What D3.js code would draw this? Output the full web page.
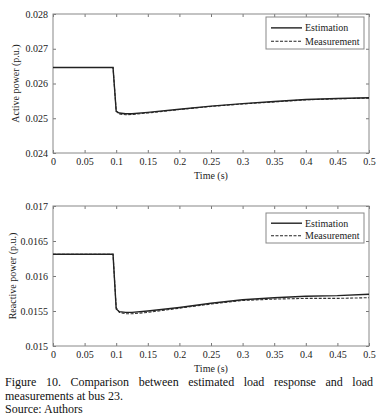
<!DOCTYPE html>
<html>
<head>
<meta charset="utf-8">
<script src="https://cdn.jsdelivr.net/npm/d3@7"></script>
<style>
  body { margin: 0; background: #fff; }
  #wrap { position: relative; width: 387px; height: 420px; }
  svg text { font-family: 'Liberation Serif', 'Times New Roman', serif; fill: #222; }
  #caption {
    position: absolute; left: 5px; top: 376px; width: 368px;
    font-family: 'Liberation Serif', 'Times New Roman', serif;
    font-size: 12px; line-height: 13.6px; color: #111; text-align: justify;
  }
</style>
</head>
<body>
<div id="wrap">
  <svg id="chart" width="387" height="420"></svg>
  <div id="caption">Figure 10. Comparison between estimated load response and load measurements at bus 23.<br>Source: Authors</div>
</div>
<script>
// time samples (s)
const time = [0, 0.095, 0.1, 0.105, 0.115, 0.125, 0.15, 0.2, 0.25, 0.3, 0.35, 0.4, 0.45, 0.5]

// active power (p.u.)
const activeEst = [0.02646, 0.02646, 0.0252, 0.02515, 0.02513, 0.02513, 0.02517, 0.02526, 0.02535, 0.02542, 0.02548, 0.02554, 0.02557, 0.02559]
const activeMeas = [0.02646, 0.02646, 0.02521, 0.02512, 0.0251, 0.02511, 0.02515, 0.02525, 0.02534, 0.02541, 0.02547, 0.02553, 0.02556, 0.02558]

// reactive power (p.u.)
const reactiveEst = [0.01631, 0.01631, 0.01553, 0.01549, 0.01548, 0.01548, 0.0155, 0.01555, 0.01561, 0.01566, 0.01569, 0.01571, 0.01572, 0.01574]
const reactiveMeas = [0.01631, 0.01631, 0.01555, 0.01548, 0.01546, 0.01546, 0.01548, 0.01554, 0.0156, 0.01565, 0.01567, 0.01568, 0.01568, 0.01569]

const xTicks = [0, 0.05, 0.1, 0.15, 0.2, 0.25, 0.3, 0.35, 0.4, 0.45, 0.5]
const activeTicks = [0.024, 0.025, 0.026, 0.027, 0.028]
const reactiveTicks = [0.015, 0.0155, 0.016, 0.0165, 0.017]
const legendLabels = ['Estimation', 'Measurement']

const svg = d3.select('#chart')
const left = 53, right = 369

const panels = [
  { top: 14, bottom: 153, domain: [0.024, 0.028], ticks: activeTicks, label: 'Active power (p.u.)', labelX: 15,
    est: activeEst, meas: activeMeas, legend: { x: 266, y: 17, w: 98, h: 32 } },
  { top: 206, bottom: 346, domain: [0.015, 0.017], ticks: reactiveTicks, label: 'Reactive power (p.u.)', labelX: 12,
    est: reactiveEst, meas: reactiveMeas, legend: { x: 266, y: 213, w: 98, h: 30 } },
]

const x = d3.scaleLinear().domain([0, 0.5]).range([left, right])

panels.forEach(p => {
  const y = d3.scaleLinear().domain(p.domain).range([p.bottom, p.top])
  const g = svg.append('g')

  const style = a => a
    .call(s => s.select('.domain').remove())
    .call(s => s.selectAll('.tick line').attr('stroke', '#777'))
    .call(s => s.selectAll('.tick text').style('font-size', '10px').attr('fill', '#222'))

  g.append('g').attr('transform', `translate(0,${p.bottom})`)
    .call(d3.axisBottom(x).tickValues(xTicks).tickSize(-3).tickPadding(5).tickFormat(d3.format('~g')))
    .call(style)
  g.append('g').attr('transform', `translate(0,${p.top})`)
    .call(d3.axisTop(x).tickValues(xTicks).tickSize(-3).tickFormat(''))
    .call(style)
  g.append('g').attr('transform', `translate(${left},0)`)
    .call(d3.axisLeft(y).tickValues(p.ticks).tickSize(-3).tickPadding(5).tickFormat(d3.format('~g')))
    .call(style)
  g.append('g').attr('transform', `translate(${right},0)`)
    .call(d3.axisRight(y).tickValues(p.ticks).tickSize(-3).tickFormat(''))
    .call(style)

  g.append('rect')
    .attr('x', left).attr('y', p.top)
    .attr('width', right - left).attr('height', p.bottom - p.top)
    .attr('fill', 'none').attr('stroke', '#888').attr('stroke-width', 1)

  const line = d3.line().x((d, i) => x(time[i])).y(d => y(d))

  g.append('path').datum(p.meas).attr('d', line)
    .attr('fill', 'none').attr('stroke', '#333').attr('stroke-width', 1.1)
    .attr('stroke-dasharray', '3,1.5')
  g.append('path').datum(p.est).attr('d', line)
    .attr('fill', 'none').attr('stroke', '#222').attr('stroke-width', 1.4)

  g.append('text')
    .attr('x', (left + right) / 2).attr('y', p.bottom + 26)
    .attr('text-anchor', 'middle').style('font-size', '10px')
    .text('Time (s)')

  g.append('text')
    .attr('transform', `translate(${p.labelX},${(p.top + p.bottom) / 2}) rotate(-90)`)
    .attr('text-anchor', 'middle').attr('dy', '0.35em').style('font-size', '10px')
    .text(p.label)

  // legend
  const L = p.legend
  const lg = g.append('g')
  lg.append('rect').attr('x', L.x).attr('y', L.y).attr('width', L.w).attr('height', L.h)
    .attr('fill', '#fff').attr('stroke', '#888').attr('stroke-width', 1)
  legendLabels.forEach((lab, i) => {
    const ly = L.y + L.h * (i === 0 ? 0.34 : 0.76)
    lg.append('line').attr('x1', L.x + 5).attr('x2', L.x + 36).attr('y1', ly).attr('y2', ly)
      .attr('stroke', '#222').attr('stroke-width', i === 0 ? 1.4 : 1.1)
      .attr('stroke-dasharray', i === 0 ? null : '3,1.5')
    lg.append('text').attr('x', L.x + 39).attr('y', ly).attr('dy', '0.33em')
      .style('font-size', '10px').text(lab)
  })
})
</script>
</body>
</html>
